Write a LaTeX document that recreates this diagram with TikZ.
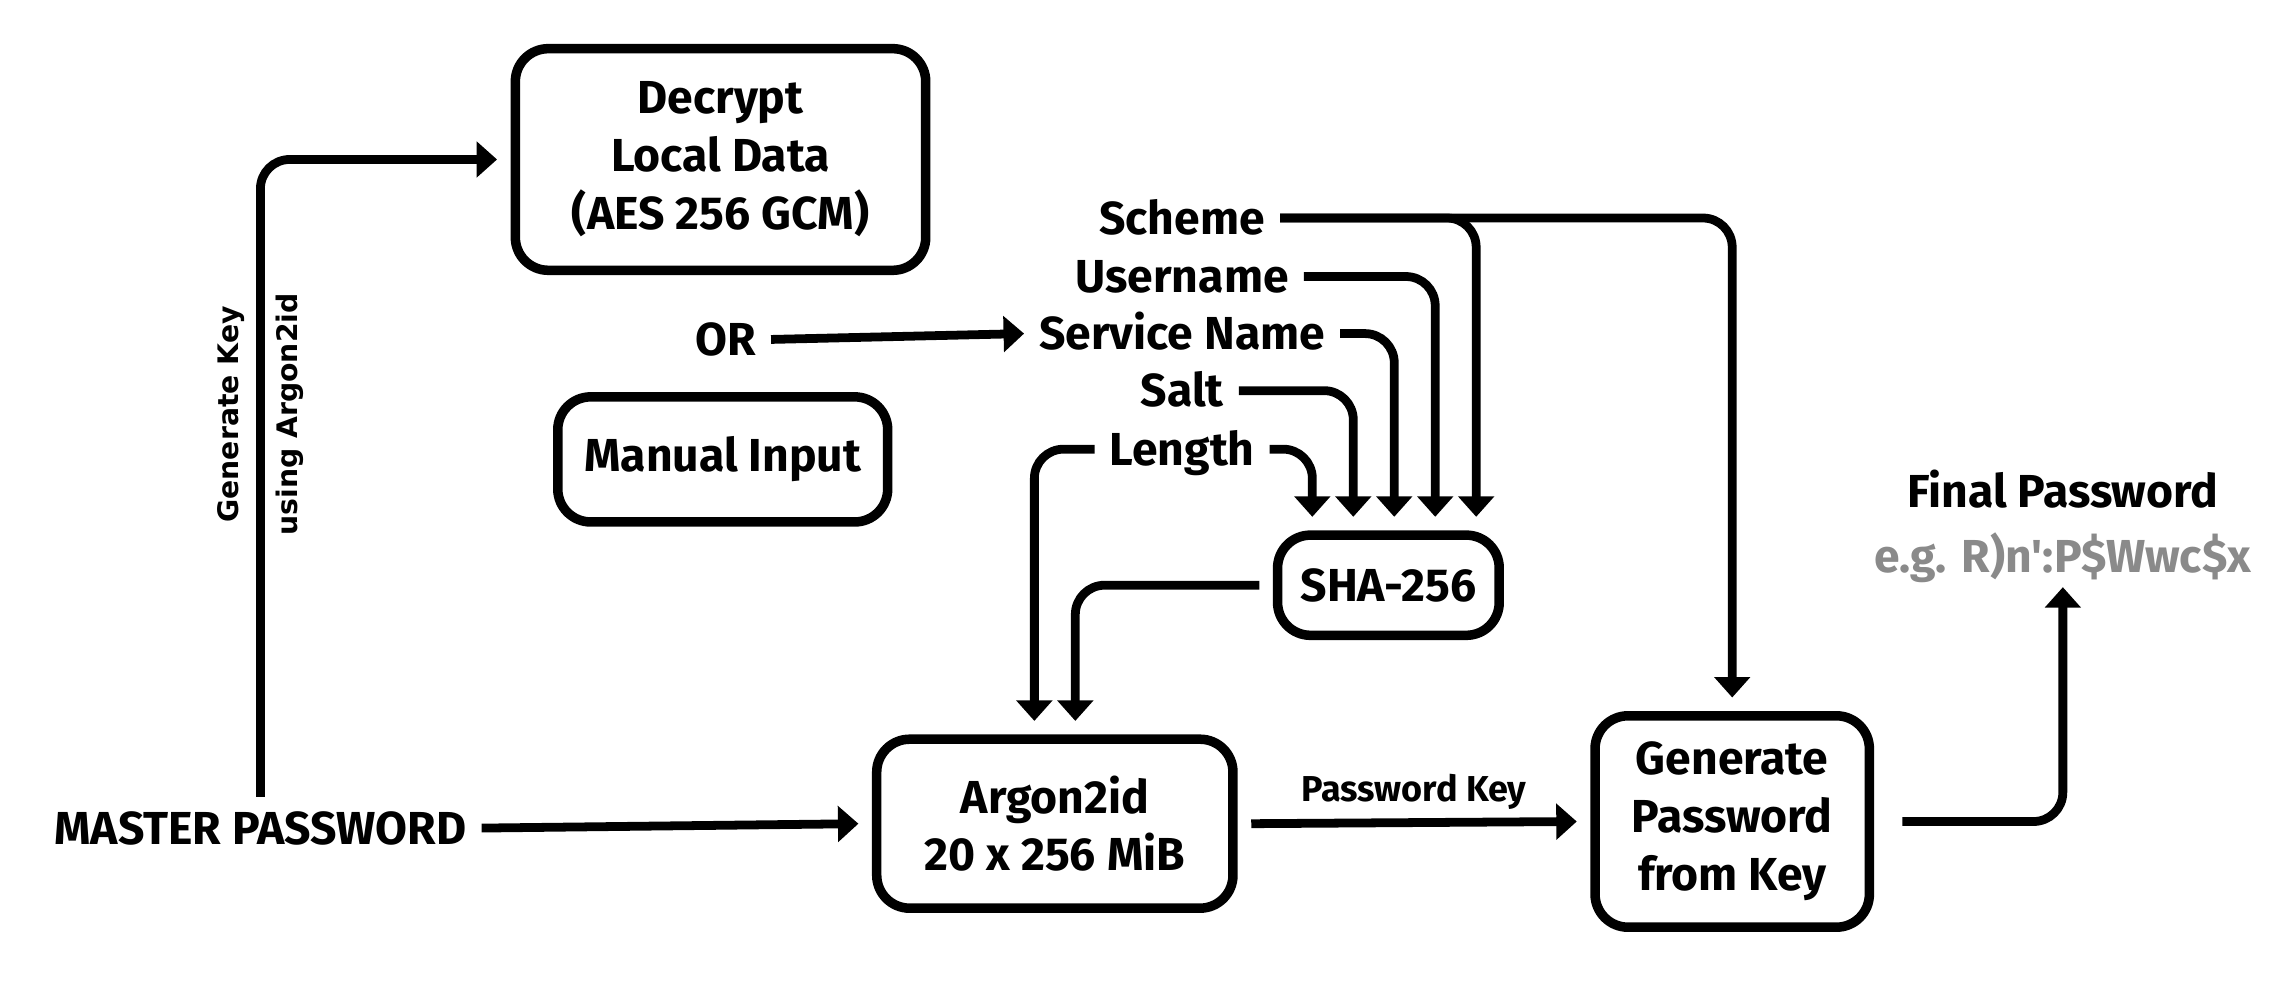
\documentclass[tikz,border=0pt]{standalone}
\usepackage{fontspec}
\setmainfont{Fira Sans}
\newfontfamily\sidefont{DejaVu Sans}
\usepackage{tikz}
\usetikzlibrary{arrows.meta, calc}

\definecolor{egray}{HTML}{8A8A8A}
\newcommand{\boxfont}{\fontsize{18}{22.5}\selectfont\bfseries}

\tikzset{
    box/.style={draw, line width=1.3mm, rounded corners=4.5mm, align=center, outer sep=2.5mm, font=\boxfont},
    lbl/.style={inner sep=2mm, text height=12.5pt, text depth=0pt, font=\boxfont},
    arr/.style={line width=1.2mm, rounded corners=4mm, -{Triangle[width=4.8mm, length=2.8mm]}},
}

\begin{document}
\begin{tikzpicture}[x=0.2mm, y=-0.2mm]
    \useasboundingbox (0, 0) rectangle (1568, 679.4);

    \node [box, minimum width=56.1mm, minimum height=30.3mm] (dec) at (492.5, 109) {Decrypt\\Local Data\\(AES 256 GCM)};
    \node [box, minimum width=45.1mm, minimum height=17.1mm] (man) at (494, 314) {Manual Input};
    \node [box, minimum width=30.3mm, minimum height=13.7mm] (sha) at (949, 400) {SHA-256};
    \node [box, minimum width=48.7mm, minimum height=23.1mm] (arg) at (721, 563) {Argon2id\\20 x 256 MiB};
    \node [box, minimum width=37.5mm, minimum height=28.9mm] (gen) at (1184, 561.5) {Generate\\Password\\from Key};

    \node [lbl] (master) at (178, 566) {MASTER PASSWORD};
    \node [lbl] (orl) at (496, 232) {OR};
    \node [lbl] (scheme) at (808, 149) {Scheme};
    \node [lbl] (user) at (808, 189) {Username};
    \node [lbl] (serv) at (808, 228) {Service Name};
    \node [lbl] (salt) at (808, 267) {Salt};
    \node [lbl] (len) at (808, 307) {Length};
    \node [lbl] (final) at (1410, 336) {Final Password};
    \node [lbl, text=egray] (eg) at (1410, 380) {e.g. R)n\textquotesingle:P\$Wwc\$x};

    \coordinate (in1) at ($(sha.north) + (-52, 0)$);
    \coordinate (in2) at ($(sha.north) + (-24, 0)$);
    \coordinate (in3) at ($(sha.north) + (4, 0)$);
    \coordinate (in4) at ($(sha.north) + (32, 0)$);
    \coordinate (in5) at ($(sha.north) + (60, 0)$);
    \coordinate (ain1) at ($(arg.north) + (-14, 0)$);
    \coordinate (ain2) at ($(arg.north) + (14, 0)$);

    \draw [arr] (master.north) |- node [pos=0.3, rotate=90, align=center, font=\sidefont\fontsize{11}{23}\selectfont\bfseries] (keylbl) {Generate Key\\using Argon2id} (dec.west);
    \draw [arr] (master.east) -- (arg.west);
    \draw [arr] (arg.east) -- node [above, font=\fontsize{14}{16}\selectfont\bfseries] (pk) {Password Key} (gen.west);
    \draw [arr, shorten <=2mm] (gen.east) -| (eg.south);
    \draw [arr] (orl.east) -- (serv.west);

    \draw [arr] (len.east) -| (in1);
    \draw [arr] (salt.east) -| (in2);
    \draw [arr] (serv.east) -| (in3);
    \draw [arr] (user.east) -| (in4);
    \draw [arr] (scheme.east) -| (in5);
    \draw [arr] (scheme.east) -| (gen.north);

    \draw [arr] (len.west) -| (ain1);
    \draw [arr] (sha.west) -| (ain2);

\end{tikzpicture}
\end{document}
